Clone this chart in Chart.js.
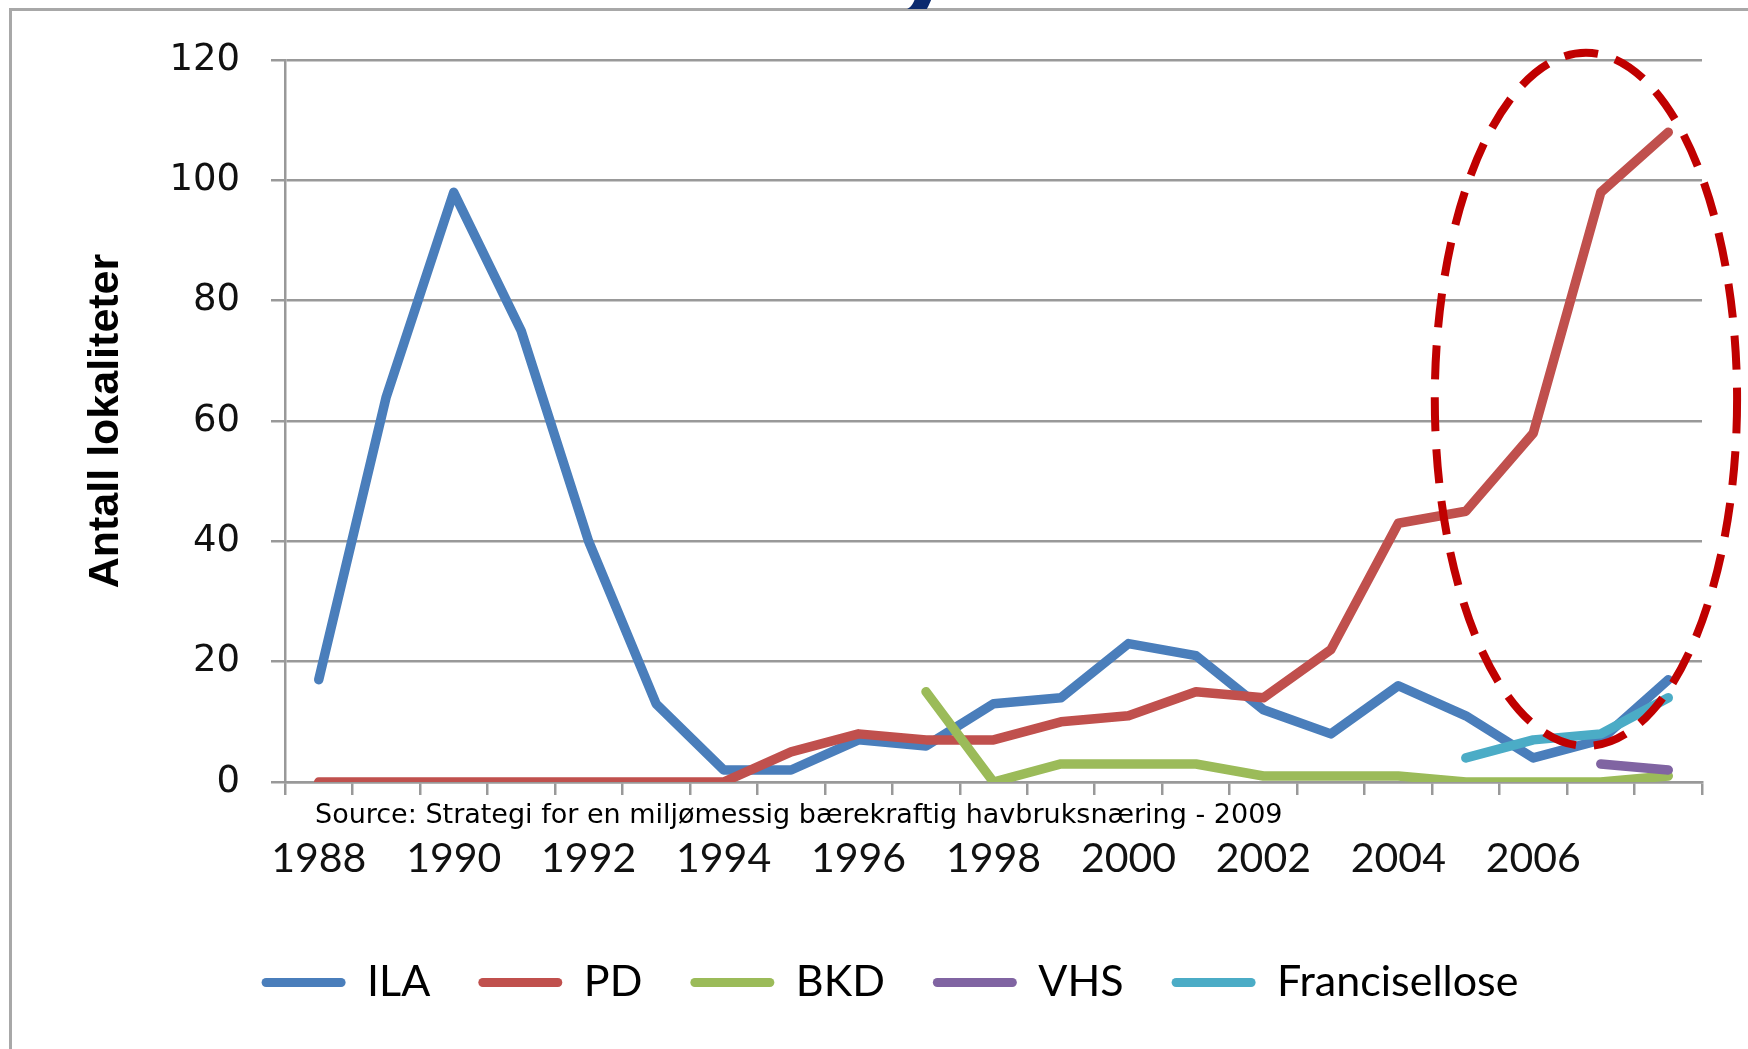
<!DOCTYPE html>
<html>
<head>
<meta charset="utf-8">
<script src="https://cdn.jsdelivr.net/npm/chart.js@4.4.1/dist/chart.umd.min.js"></script>
<style>
    html, body { margin: 0; padding: 0; background: #fff; overflow: hidden; }
    #wrap { position: relative; width: 1748px; height: 1049px; }
    #frame { position: absolute; left: 9px; top: 8px; width: 1800px; height: 1100px;
             border-left: 3px solid #a8a8a8; border-top: 3px solid #a8a8a8; }
    #titleClip { position: absolute; left: 870px; top: 0; width: 120px; height: 9px; overflow: hidden; }
    #titleClip span { position: absolute; left: 20px; bottom: -6px; font: bold 120px "Liberation Sans", Arial, sans-serif;
                      color: #0b2a6e; line-height: 1; }
    canvas { position: absolute; left: 0; top: 0; }
</style>
</head>
<body>
<div id="wrap">
    <div id="frame"></div>
    <div id="titleClip"><span>y</span></div>
    <canvas id="chartSykdom" width="1748" height="1049"></canvas>
</div>
<script>
// år og antall lokaliteter per sykdom
const years = ['1988', '1989', '1990', '1991', '1992', '1993', '1994', '1995', '1996', '1997', '1998',
               '1999', '2000', '2001', '2002', '2003', '2004', '2005', '2006', '2007', '2008'];
const shownYears = ['1988', '1990', '1992', '1994', '1996', '1998', '2000', '2002', '2004', '2006'];
const ila = [17, 64, 98, 75, 40, 13, 2, 2, 7, 6, 13, 14, 23, 21, 12, 8, 16, 11, 4, 7, 17];
const pd = [0, 0, 0, 0, 0, 0, 0, 5, 8, 7, 7, 10, 11, 15, 14, 22, 43, 45, 58, 98, 108];
const bkd = [null, null, null, null, null, null, null, null, null, 15, 0, 3, 3, 3, 1, 1, 1, 0, 0, 0, 1];
const vhs = [null, null, null, null, null, null, null, null, null, null, null, null, null, null, null, null, null, null, null, 3, 2];
const francisellose = [null, null, null, null, null, null, null, null, null, null, null, null, null, null, null, null, null, 4, 7, 8, 14];
const yTicks = [0, 20, 40, 60, 80, 100, 120];
const sourceText = 'Source: Strategi for en miljømessig bærekraftig havbruksnæring - 2009';

(function () {
    const grey = '#999999';

    function serie(label, data, color, order) {
        return {
            label: label,
            data: data,
            borderColor: color,
            backgroundColor: color,
            borderWidth: 9.5,
            pointRadius: 0,
            tension: 0,
            borderJoinStyle: 'round',
            borderCapStyle: 'round',
            spanGaps: false,
            order: order
        };
    }

    // rød stiplet ellipse rundt 2005-2008
    const ellipsePlugin = {
        id: 'ellipse',
        afterDatasetsDraw: function (chart) {
            const x = chart.scales.x, y = chart.scales.y, ctx = chart.ctx;
            const cx = x.getPixelForValue(18.78);
            const rx = x.getPixelForValue(18.78 + 2.24) - cx;
            const cy = y.getPixelForValue(63.6);
            const ry = cy - y.getPixelForValue(63.6 + 57.6);
            ctx.save();
            ctx.beginPath();
            ctx.ellipse(cx, cy, rx, ry, 0, 0, Math.PI * 2);
            ctx.strokeStyle = '#c00000';
            ctx.lineWidth = 8;
            ctx.setLineDash([34, 18]);
            ctx.stroke();
            ctx.restore();
        },
        afterDraw: function (chart) {
            const ctx = chart.ctx, a = chart.chartArea;
            ctx.save();
            ctx.font = '27px "DejaVu Sans", Verdana, sans-serif';
            ctx.fillStyle = '#000';
            ctx.textBaseline = 'middle';
            ctx.fillText(sourceText, a.left + 30, a.bottom + 34);
            ctx.restore();
        }
    };

    new Chart(document.getElementById('chartSykdom').getContext('2d'), {
        type: 'line',
        data: {
            labels: years,
            datasets: [
                serie('ILA', ila, '#4a7ebb', 5),
                serie('PD', pd, '#c0504d', 4),
                serie('BKD', bkd, '#9bbb59', 3),
                serie('VHS', vhs, '#8064a2', 2),
                serie('Francisellose', francisellose, '#4bacc6', 1)
            ]
        },
        options: {
            responsive: false,
            animation: false,
            layout: { padding: { left: 78, right: 46, top: 60, bottom: 35 } },
            plugins: {
                tooltip: { enabled: false },
                legend: {
                    position: 'bottom',
                    labels: {
                        boxWidth: 84,
                        boxHeight: 9,
                        padding: 48,
                        color: '#000',
                        useBorderRadius: true,
                        font: { family: 'Lato, "Open Sans", sans-serif', size: 43 },
                        generateLabels: function (chart) {
                            return Chart.defaults.plugins.legend.labels.generateLabels(chart)
                                .sort(function (a, b) { return a.datasetIndex - b.datasetIndex; })
                                .map(function (l) {
                                    l.fillStyle = l.strokeStyle;
                                    l.lineWidth = 0;
                                    l.borderRadius = 4.5;
                                    return l;
                                });
                        }
                    }
                }
            },
            scales: {
                x: {
                    offset: true,
                    afterFit: function (scale) { scale.height = 131; },
                    grid: { offset: true, drawOnChartArea: false, drawTicks: true, tickLength: 13, color: grey, lineWidth: 2.5 },
                    border: { display: true, color: grey, width: 2.5 },
                    ticks: {
                        autoSkip: false,
                        maxRotation: 0,
                        padding: 39,
                        color: '#111',
                        font: { family: 'Lato, "Open Sans", sans-serif', size: 41 },
                        callback: function (value) {
                            const lab = this.getLabelForValue(value);
                            return shownYears.indexOf(lab) >= 0 ? lab : '';
                        }
                    }
                },
                y: {
                    min: 0,
                    max: 120,
                    afterFit: function (scale) { scale.width = 207; },
                    afterBuildTicks: function (scale) {
                        scale.ticks = yTicks.map(function (v) { return { value: v }; });
                    },
                    grid: { color: grey, lineWidth: 2.5, drawTicks: true, tickLength: 14 },
                    border: { display: true, color: grey, width: 2.5 },
                    ticks: {
                        padding: 31,
                        color: '#111',
                        font: { family: '"DejaVu Sans", Verdana, sans-serif', size: 37 }
                    },
                    title: {
                        display: true,
                        text: 'Antall lokaliteter',
                        color: '#000',
                        padding: { top: 2 },
                        font: { family: '"Liberation Sans", Arial, sans-serif', size: 43, weight: 'bold' }
                    }
                }
            }
        },
        plugins: [ellipsePlugin]
    });
})();
</script>
</body>
</html>
